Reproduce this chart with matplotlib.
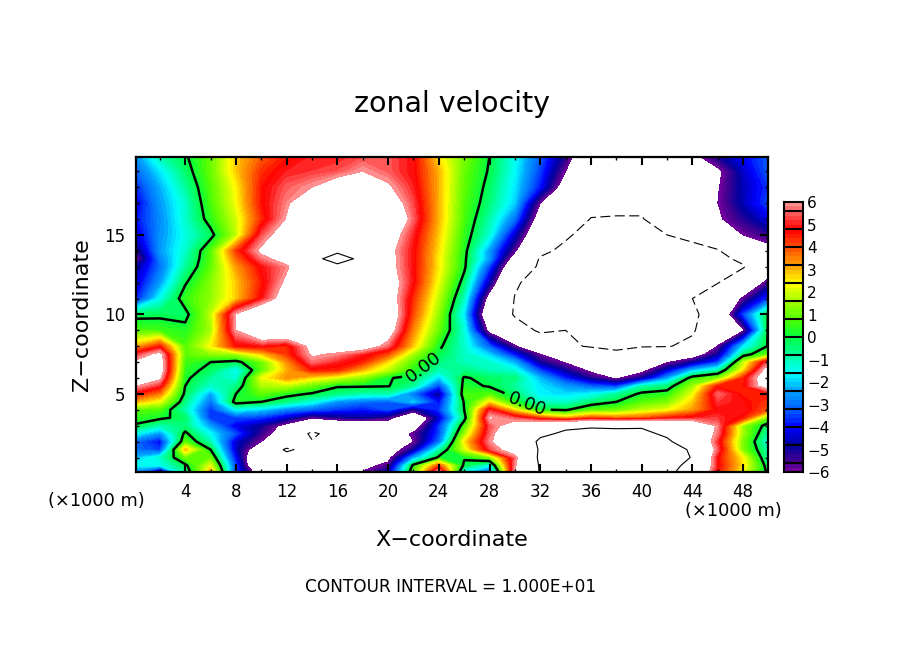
import numpy as np
import matplotlib
matplotlib.use('Agg')
import matplotlib.pyplot as plt
from matplotlib.colors import LinearSegmentedColormap

# grid of the field, x every 2, z rows finer in the lower part
x = np.arange(0, 51, 2)
z = [0, 0.5, 1, 1.5, 2, 2.5, 3, 3.5, 4, 4.5, 5, 5.5, 6, 6.5, 7, 7.5, 8,
     9, 10, 11, 12, 13, 13.5, 14, 15, 16, 17, 18, 19, 20]

u00 = [-3,-6.5,-1,3.5,-3.5,-7,-7,-7,-6.2,-5.8,-4.5,1,7, -2,-4,6.1,10.2,11,11,11,11,10.4,9,4.5,2.2,-0.2]
u005 = [-1.5,-1.5,-0.2,2.2,-3.5,-9,-9,-8,-7,-6.5,-5.6,0.3,4, -0.2,-1.5,5.8,10.3,11,11,11,11,10.6,9.5,4.8,2.6,-0.5]
u10 = [-2.2,-1.2,1,1,-4,-9,-9,-9,-8,-8,-6.5,-2.5,0.2, 0.1,1.2,5.5,10.6,11,11,11,11,11,9.9,4.7,2.4,-1]
u15 = [-3,-3.5,3,0,-4.5,-7.5,-10.4,-9,-8,-8,-7,-5,-1, 2,5.2,7,10.3,11,11,11,11,10.7,9.8,5.4,1.2,-1]
u20 = [-3,-4,0.8,-1,-4.4,-6,-8,-9.8,-9,-8,-8,-6,-3, 2.5,5.8,7.5,10.5,11,11,11,11,10.3,8.8,5,1.2,-1.5]
u25 = [-1.5,-2.6,0.2,-1.6,-3.4,-5.4,-7,-10.6,-8.5,-8,-7,-5.8,-3.5, 1.5,5.5,8,9.5,10.4,10.5,10.5,10.4,9.7,8,5.6,1.5,-1]
u30 = [-0.1,-1,-0.5,-2.5,-4.2,-5,-6.5,-8,-8,-8,-7,-7,-3.6, 0.6,5.3,7,8,9.5,9.8,9.7,9.8,9,8,5.8,1.5,-0.5]
u35 = [0.4,0.2,-0.3,-3.6,-3.4,-3.6,-4.5,-5.9,-5.2,-4.9,-5.5,-8,-4.5, -0.4,6.2,5.3,4,3,4,3.6,3.8,4.5,4.9,5.2,4.5,1]
u40 = [0.9,0.7,-1,-3.6,-1.6,-2,-2.8,-3.2,-3.6,-3.9,-3.4,-5.3,-3.6, 0,5,2.5,0.1,-0.1,0.8,1,1.8,2.2,3.2,4.8,5,3.8]
u45 = [3,2.2,-0.6,-3,0.4,0,-0.6,-1.4,-2.6,-3,-3.2,-2,-4, 0.1,2.5,0.3,-1.1,-1.2,-0.5,0,0.8,1.2,2.8,5.2,4.8,4.2]
u50 = [4.6,3.5,-0.2,-2.4,0,0.9,0.3,-0.1,-0.6,-1,-1,-3,-5, 0.6,0.8,-0.4,-1.7,-1.9,-1.6,-0.8,0.2,0.4,2.2,5.6,4.5,4.6]
u55 = [6.1,5,0,-1.2,-0.6,1.7,1.8,1,0.1,0.1,0.05,-0.8,-3.5, 0.3,-0.1,-0.8,-1.8,-2.5,-3.2,-3.6,-1,-0.5,1.5,4.5,4.6,7]
u60 = [7,6.3,0.2,-0.8,-1.3,2.2,3.3,2.6,2,1.3,0.05,-0.2,-2, 0.1,-0.3,-0.5,-2.2,-3.8,-5.2,-6.2,-5,-2.5,0.5,1.2,4.4,7.5]
u65 = [7,7,0.4,-0.3,-1.6,0.9,3,4.5,4.4,3,1.8,0.4,-1, -0.6,-1,-1.3,-3.5,-5,-6.3,-8,-6.5,-4.5,-2.2,-1,2.5,7]
u70 = [6.2,7,0.6,0,-0.3,1,3.3,5.6,5,4.4,2.6,0.8,-0.5, -1,-1.2,-2.3,-5,-6.1,-7.5,-9,-8,-6.1,-5,-3.5,1.8,5.5]
u75 = [5,6.5,0.9,1.4,1.6,2.8,4.2,6.2,5.8,5,4,1.6,-0.1, -1.1,-2,-4,-6,-7.5,-8.5,-9.7,-9,-8,-7,-5,-0.5,1]
u80 = [3,4.5,0.8,2.4,4.6,4.8,4.4,6.5,7,7,5.5,2.8,0.2, -1.2,-3.2,-5.8,-8.5,-9.6,-10.2,-10.3,-10.1,-10.1,-9.6,-5.9,-1.8,0.1]
u90 = [0.8,0.6,0.3,1.6,6,8,8,8,8,8,7,3.4,1, -1.3,-6.5,-9,-10.3,-10,-11,-11,-11,-11,-10.2,-8.5,-6.2,0.2]
u100 = [-0.3,-0.2,-0.3,1.8,6.1,8,8,8,8,8,7.5,4,1.4, -1.8,-8,-10.2,-11,-11,-11,-11,-11,-11,-10.6,-8.3,-3.5,0.1]
u110 = [-4,-1.5,0.5,1.4,2.8,4.8,7,8,8,8,7,4.3,1.8, -1.1,-6.8,-10.1,-11,-11,-11,-11,-11,-11,-10,-8,-5.8,-3.5]
u120 = [-4.5,-2.5,-0.1,1.3,2.8,4.5,6.3,8.5,9,8.5,7,4.8,2.2, -0.4,-4.8,-9.7,-11,-11,-11,-11,-11,-11,-11,-10.1,-8,-5.5]
u130 = [-5,-3,-0.8,0.9,3.2,4.8,5.8,8,9.6,9.8,6.6,4.8,2.5, 0.2,-3.5,-8,-10.4,-11,-11,-11,-11,-11,-11,-11,-10.2,-7.5]
u135 = [-6.3,-2.8,-1,0.8,3.7,5.6,6.6,9.5,10.7,9.6,6.6,4.8,2.5, 0.2,-2.5,-7,-10.2,-11,-11,-11,-11,-11,-10.8,-10.6,-9.5,-7]
u140 = [-5.5,-2.5,-1.2,0.8,4.2,6.3,7,9.8,9.7,9,6.5,4.8,2.6, 0.3,-2.5,-5.8,-9.5,-10.5,-11,-11,-11,-11,-10.6,-10.2,-8,-6.6]
u150 = [-4.5,-2.6,-1.4,-0.3,1.8,5.3,7,8,9,9,7,5,2.8, 0.5,-1.3,-4.5,-8,-9.7,-10.8,-11,-11,-10,-9.5,-8,-6,-5.3]
u160 = [-4,-2.7,-1.2,0.4,2,4.3,6.1,8,8.5,8.5,8,5.5,3, 0.7,-0.9,-3,-7,-9,-10.05,-10.05,-10.05,-9.5,-8.7,-6.2,-5.2,-4.2]
u170 = [-4.3,-2.5,-1.2,0.7,2.3,4.6,5.8,7.5,8,8,7,5.3,3, 0.8,-0.5,-2,-6,-8,-9.5,-9.8,-9.8,-9.2,-8.5,-6,-4.6,-3.4]
u180 = [-3.8,-2.3,-0.8,0.8,2.4,4.6,5.5,6,7,7,6.2,5,3, 0.9,-0.3,-1.8,-3.9,-7,-9,-9.5,-9.5,-9,-8,-6.1,-4.6,-3.6]
u190 = [-3.2,-1.8,-0.4,1,2.8,4.3,5,5.2,5.4,6,5.5,4.8,3, 1,-0.1,-1.6,-3.5,-6,-8,-9,-9,-8,-7,-6.3,-4.5,-3.2]
u200 = [-2.6,-0.9,-0.1,1,2.8,3.8,4.5,5,5,5.3,5.5,4.8,2.5, 1.2,0,-1.5,-3.2,-5.2,-8,-8,-8,-7,-6.3,-5,-4,-3.2]

u = np.array([u00, u005, u10, u15, u20, u25, u30, u35, u40, u45, u50, u55, u60, u65, u70, u75, u80,
              u90, u100, u110, u120, u130, u135, u140, u150, u160, u170, u180, u190, u200])

# colour table, same order as the colour bar
bar_values = [-6, -5.6, -4.8, -4, -3.2, -2.4, -1.6, -0.8, 0, 0.8, 1.6, 2.4, 3.2, 4, 4.8, 5.6, 6]
bar_colors = ['#7a00a0', '#4a0090', '#0000a0', '#0000ff', '#0060ff', '#00a0ff', '#00ffff', '#00ffa0',
              '#00ff40', '#50ff00', '#a0ff00', '#ffff00', '#ffa000', '#ff5000', '#ff0000', '#ff6060', '#ff9c9c']
pos = [(v + 6) / 12 for v in bar_values]
cmap = LinearSegmentedColormap.from_list('zonal', list(zip(pos, bar_colors)), N=256)
levels = np.arange(-6, 6.01, 0.2)

W, H = 904, 654
fig = plt.figure(figsize=(W / 100, H / 100), dpi=100, facecolor='white')
ax = fig.add_axes([136 / W, 1 - 472 / H, (768 - 136) / W, (472 - 157) / H])

ax.contourf(x, z, u, levels=levels, cmap=cmap, vmin=-6, vmax=6, antialiased=False)
ax.contour(x, z, u, levels=[10], colors='k', linewidths=0.8, linestyles='solid')
ax.contour(x, z, u, levels=[-10], colors='k', linewidths=0.8, linestyles=[(0, (9, 4))])
cs = ax.contour(x, z, u, levels=[0], colors='k', linewidths=1.8, linestyles='solid')
ax.clabel(cs, fmt='%.2f', fontsize=13, inline=True, manual=[(22.7, 6.8), (31, 4.5)])

ax.set_xlim(0.12, 49.96)
ax.set_ylim(0.09, 19.9)
ax.set_xticks(np.arange(4, 49, 4))
ax.set_xticks(np.arange(2, 50, 2), minor=True)
ax.set_yticks([5, 10, 15])
ax.set_yticks(np.arange(1, 20, 1), minor=True)
ax.tick_params(which='major', direction='in', length=5.5, width=1.5, top=True, right=True, labelsize=12, pad=8)
ax.tick_params(which='minor', direction='in', length=2.5, width=1, top=True, right=True)
for s in ax.spines.values():
    s.set_linewidth(1.6)

# colour bar
cax = fig.add_axes([784 / W, 1 - 472 / H, 19 / W, 270 / H])
cell_mid = (levels[:-1] + levels[1:]) / 2
cax.pcolormesh([0, 1], levels, cell_mid[:, None], cmap=cmap, vmin=-6, vmax=6)
for b in np.arange(-5.6, 5.7, 0.8):
    cax.axhline(b, color='k', lw=1.5)
cax.set_xticks([])
cax.yaxis.tick_right()
bar_ticks = np.arange(-6, 7)
bar_labels = [str(t).replace('-', '\u2212') for t in bar_ticks]
cax.set_yticks(bar_ticks)
cax.set_yticklabels(bar_labels)
cax.tick_params(axis='y', length=0, labelsize=11, pad=3)
for s in cax.spines.values():
    s.set_linewidth(1.5)

fig.text(452 / W, 1 - 104 / H, 'zonal velocity', fontsize=20.5, ha='center', va='center')
fig.text(452 / W, 1 - 540 / H, 'X\u2212coordinate', fontsize=16, ha='center', va='center')
fig.text(82 / W, 1 - 315 / H, 'Z\u2212coordinate', fontsize=16, rotation=90, ha='center', va='center')
fig.text(96 / W, 1 - 501 / H, '(\u00d71000 m)', fontsize=12.8, ha='center', va='center')
fig.text(733 / W, 1 - 511 / H, '(\u00d71000 m)', fontsize=12.8, ha='center', va='center')
fig.text(451 / W, 1 - 587 / H, 'CONTOUR INTERVAL = 1.000E+01', fontsize=12.2, ha='center', va='center')

fig.savefig('out.png', dpi=100)
plt.close(fig)
